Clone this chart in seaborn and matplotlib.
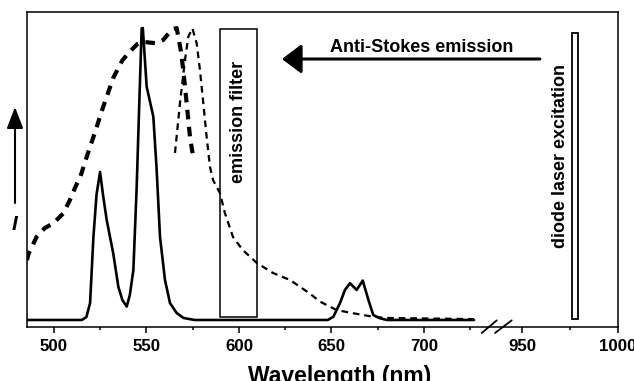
import numpy as np
import pandas as pd
import matplotlib
matplotlib.use("Agg")
import matplotlib.pyplot as plt
from matplotlib.patches import Rectangle
import seaborn as sns

# ---------------- data ----------------
# upconversion emission (solid)
uc_wl = [485.4, 515, 517.5, 519.5, 521.3, 523, 524.9, 526.5, 528.5, 532, 534.8, 537,
         539.3, 541, 542.9, 544.7, 546.1, 547.4, 548.0, 550.1, 551.9, 553.7, 555.5,
         557.3, 560, 562.7, 566.3, 570, 576, 648, 651, 654.6, 657.3, 660, 663.6,
         666.9, 670, 672.6, 676.2, 680, 727.5]
uc_int = [0, 0, 0.01, 0.058, 0.284, 0.43, 0.507, 0.428, 0.342, 0.229, 0.113, 0.068,
          0.046, 0.086, 0.171, 0.456, 0.743, 0.999, 1.0, 0.799, 0.748, 0.696, 0.514,
          0.285, 0.137, 0.058, 0.024, 0.007, 0, 0, 0.011, 0.058, 0.103, 0.126, 0.103,
          0.135, 0.068, 0.017, 0.006, 0, 0]

# absorption (thick dashed)
abs_wl = [485.4, 486, 490.6, 495, 499.6, 505, 508.6, 512, 514, 518, 522, 526, 532,
          537, 541, 545, 548.3, 552, 555.5, 559, 562.7, 564.5, 566.3, 567.2, 568.5,
          569.9, 571.7, 573.5, 575.3]
abs_int = [0.205, 0.223, 0.285, 0.315, 0.331, 0.365, 0.411, 0.462, 0.486, 0.565,
           0.640, 0.719, 0.829, 0.890, 0.919, 0.945, 0.953, 0.950, 0.948, 0.959,
           0.987, 0.997, 1.0, 0.970, 0.925, 0.856, 0.743, 0.628, 0.555]

# emission (thin dashed)
em_wl = [565.4, 568.1, 570.8, 572.6, 574.8, 577.1, 578.9, 580.7, 582.5, 584.3, 586,
         589.7, 592.4, 596.8, 602, 609.7, 618.4, 627.6, 638, 643.8, 652.8, 661.8,
         672.6, 680, 727.5]
em_int = [0.572, 0.743, 0.890, 0.970, 0.999, 0.949, 0.856, 0.743, 0.628, 0.525, 0.479,
          0.435, 0.366, 0.284, 0.240, 0.195, 0.161, 0.137, 0.092, 0.063, 0.034, 0.023,
          0.011, 0.007, 0.003]

major_ticks = [500, 550, 600, 650, 700, 950, 1000]
minor_ticks = [525, 575, 625, 675, 725, 975]

# broken axis: wavelength -> position
bk_w = [0, 727, 950, 2000]
bk_p = [0, 727, 753, 753 + 1050 * 1.038]

def fwd(w):
    return np.interp(w, bk_w, bk_p)

def inv(p):
    return np.interp(p, bk_p, bk_w)

# ---------------- style ----------------
sns.set_theme(style="ticks")
plt.rcParams["font.family"] = ["Liberation Sans", "DejaVu Sans"]
plt.rcParams["font.weight"] = "bold"

fig = plt.figure(figsize=(6.34, 3.81), dpi=100)
ax = fig.add_axes([27 / 634, 54 / 381, 591 / 634, 315 / 381])
ax.set_xscale("function", functions=(fwd, inv))

uc = pd.DataFrame({"wl": uc_wl, "I": uc_int})
ab = pd.DataFrame({"wl": abs_wl, "I": abs_int})
em = pd.DataFrame({"wl": em_wl, "I": em_int})

sns.lineplot(data=em, x="wl", y="I", ax=ax, color="black", lw=1.6,
             linestyle=(0, (3.0, 2.2)), estimator=None, sort=False)
sns.lineplot(data=ab, x="wl", y="I", ax=ax, color="black", lw=3.0,
             linestyle=(0, (2.3, 1.8)), estimator=None, sort=False)
sns.lineplot(data=uc, x="wl", y="I", ax=ax, color="black", lw=1.9,
             estimator=None, sort=False, solid_joinstyle="round")

ax.set_xlim(485.4, 1000)
ax.set_ylim(-0.024, 1.055)
ax.set_yticks([])
ax.set_ylabel("")
ax.set_xticks(major_ticks)
ax.set_xticklabels([str(t) for t in major_ticks])
ax.set_xticks(minor_ticks, minor=True)
ax.tick_params(axis="x", which="major", direction="out", length=4.3, width=1.1,
               pad=4.5, labelsize=12.2, color="black", labelcolor="black")
ax.tick_params(axis="x", which="minor", direction="out", length=2.2, width=1.1,
               color="black")
for lab in ax.get_xticklabels():
    lab.set_fontweight("bold")
for s in ax.spines.values():
    s.set_color("black")
    s.set_linewidth(1.1)

ax.set_xlabel("Wavelength (nm)", fontsize=16.5, fontweight="bold", color="black")
ax.xaxis.set_label_coords(0.529, -0.122)

# emission filter box
ax.add_patch(Rectangle((590, 0.01), 20, 0.987, fill=False, ec="black", lw=1.1))
ax.text(600, 0.68, "emission filter", rotation=90, ha="center", va="center",
        fontsize=13, fontweight="bold", color="black")

# diode laser box
ax.add_patch(Rectangle((976, 0.003), 3, 0.98, fill=False, ec="black", lw=1.3))
ax.text(970.2, 0.562, "diode laser excitation", rotation=90, ha="center",
        va="center", fontsize=13, fontweight="bold", color="black")

# anti-stokes arrow and text
ax.annotate("", xy=(623.2, 0.894), xytext=(959.3, 0.894),
            arrowprops=dict(arrowstyle="-|>,head_length=0.6,head_width=0.45",
                            mutation_scale=20, lw=2.2, color="black",
                            shrinkA=0, shrinkB=0))
ax.text(699, 0.935, "Anti-Stokes emission", ha="center", va="center",
        fontsize=13, fontweight="bold", color="black")

# axis break slashes
for x0, x1 in [(0.7694, 0.7948), (0.7919, 0.8201)]:
    ax.plot([x0, x1], [-0.019, 0.021], transform=ax.transAxes, color="black",
            lw=1.3, clip_on=False)

# y indicator arrow and label
ax.annotate("", xy=(15, 274), xytext=(15, 178), xycoords="figure pixels",
            textcoords="figure pixels",
            arrowprops=dict(arrowstyle="-|>,head_length=0.65,head_width=0.25",
                            mutation_scale=20, lw=1.5, color="black",
                            shrinkA=0, shrinkB=0))
fig.text(14.5, 156, "I", ha="center", va="center", fontsize=15,
         fontweight="bold", fontstyle="italic", color="black",
         transform=None)

fig.savefig("out.png", dpi=100)
